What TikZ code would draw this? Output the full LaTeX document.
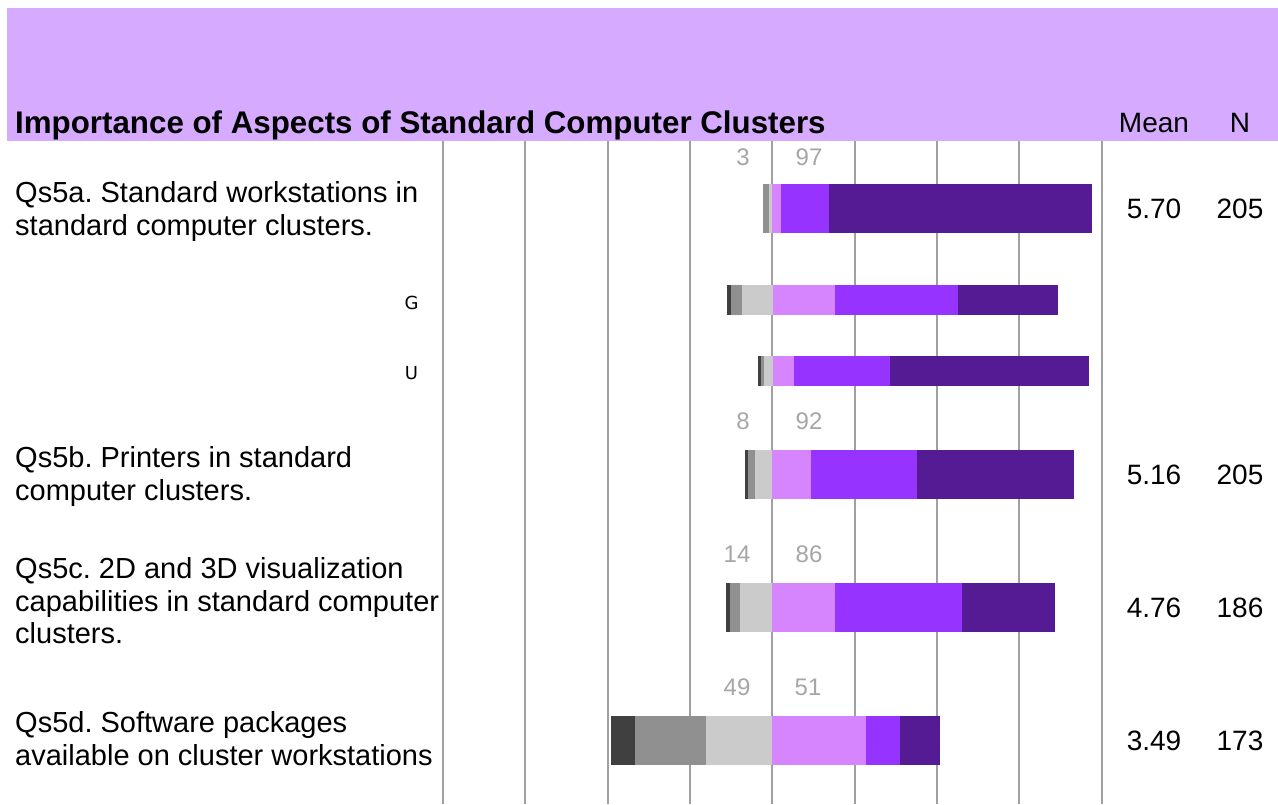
\documentclass[tikz,border=0pt]{standalone}
\usepackage{fontspec}
\setmainfont{Liberation Sans}
\newfontfamily\dejavu{DejaVu Sans}
\definecolor{hdr}{HTML}{D5AAFF}
\definecolor{cdg}{HTML}{404040}
\definecolor{cmg}{HTML}{909090}
\definecolor{clg}{HTML}{CBCBCB}
\definecolor{clp}{HTML}{D685FF}
\definecolor{cpu}{HTML}{9633FF}
\definecolor{cdp}{HTML}{541B94}
\definecolor{gridc}{HTML}{A0A0A0}
\definecolor{numc}{HTML}{A6A6A6}
\newcommand\stackbar[3]{%
  \foreach \xa/\xb/\cc in {#3} {\fill[\cc] (\xa,#1) rectangle (\xb,#2);}%
}
\tikzset{
  qtext/.style={anchor=base west, inner sep=0pt, font=\fontsize{29}{33}\selectfont},
  vtext/.style={anchor=base, inner sep=0pt, font=\fontsize{28}{32}\selectfont},
  ntext/.style={anchor=base, inner sep=0pt, text=numc, font=\fontsize{24}{28}\selectfont},
  gtext/.style={anchor=base, inner sep=0pt, font=\dejavu\fontsize{18}{22}\selectfont},
  gridline/.style={draw=gridc, line width=2pt}
}
\frenchspacing
\begin{document}
\begin{tikzpicture}[x=1pt,y=-1pt]
\useasboundingbox (0,0) rectangle (1278,804);
% header band
\fill[hdr] (7,8) rectangle (1278,141);
\node[anchor=base west, inner sep=0pt, font=\bfseries\fontsize{31.3}{36}\selectfont] (title) at (15,133) {Importance of Aspects of Standard Computer Clusters};
\node[vtext] (hmean) at (1154,132) {Mean};
\node[vtext] (hn) at (1240,132) {N};
% grid
\foreach \i in {0,...,8} {
  \draw[gridline] ({443+82.33*\i},141) -- ({443+82.33*\i},804);
}
% bars
\stackbar{184}{233}{763/769/cmg, 769/772/clg, 772/781/clp, 781/829/cpu, 829/1092/cdp}
\stackbar{285}{315}{727/731/cdg, 731/742/cmg, 742/773/clg, 773/835/clp, 835/958/cpu, 958/1058/cdp}
\stackbar{356}{386}{758/761/cdg, 761/764/cmg, 764/773/clg, 773/794/clp, 794/890/cpu, 890/1089/cdp}
\stackbar{450}{499}{745/748/cdg, 748/755/cmg, 755/772/clg, 772/811/clp, 811/917/cpu, 917/1074/cdp}
\stackbar{583}{632}{726/730/cdg, 730/740/cmg, 740/772/clg, 772/835/clp, 835/962/cpu, 962/1055/cdp}
\stackbar{716}{765}{611/635/cdg, 635/706/cmg, 706/772/clg, 772/866/clp, 866/900/cpu, 900/940/cdp}
% numbers above bars
\node[ntext] (na1) at (743,165) {3};
\node[ntext] (na2) at (809,165) {97};
\node[ntext] (nb1) at (743,429) {8};
\node[ntext] (nb2) at (809,429) {92};
\node[ntext] (nc1) at (737,562) {14};
\node[ntext] (nc2) at (809,562) {86};
\node[ntext] (nd1) at (737,695) {49};
\node[ntext] (nd2) at (808,695) {51};
% group labels
\node[gtext] (lg) at (411.5,309) {G};
\node[gtext] (lu) at (411.5,379) {U};
% questions
\node[qtext] (qa1) at (15,202) {Qs5a. Standard workstations in};
\node[qtext] (qa2) at (15,235) {standard computer clusters.};
\node[qtext] (qb1) at (15,467) {Qs5b. Printers in standard};
\node[qtext] (qb2) at (15,500) {computer clusters.};
\node[qtext] (qc1) at (15,578) {Qs5c. 2D and 3D visualization};
\node[qtext] (qc2) at (15,611) {capabilities in standard computer};
\node[qtext] (qc3) at (15,643) {clusters.};
\node[qtext] (qd1) at (15,732) {Qs5d. Software packages};
\node[qtext] (qd2) at (15,765) {available on cluster workstations};
% means and N
\node[vtext] (ma) at (1154,218) {5.70};
\node[vtext] (nna) at (1240,218) {205};
\node[vtext] (mb) at (1154,484) {5.16};
\node[vtext] (nnb) at (1240,484) {205};
\node[vtext] (mc) at (1154,617) {4.76};
\node[vtext] (nnc) at (1240,617) {186};
\node[vtext] (md) at (1154,750) {3.49};
\node[vtext] (nnd) at (1240,750) {173};
\end{tikzpicture}
\end{document}
